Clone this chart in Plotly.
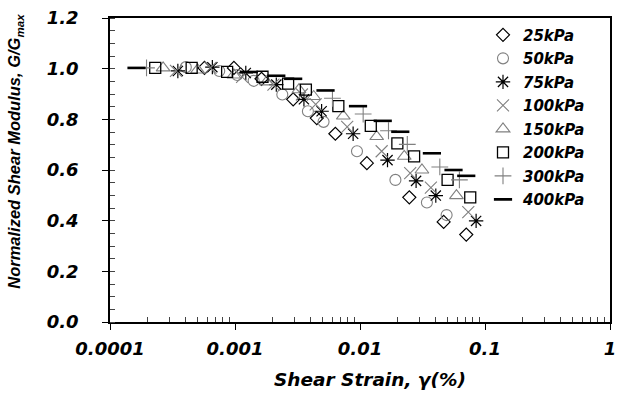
import plotly.graph_objects as go

# ---- data ----
series_names = ["25kPa", "50kPa", "75kPa", "100kPa", "150kPa", "200kPa", "300kPa", "400kPa"]

x_25 = [0.00057, 0.00098, 0.00163, 0.00292, 0.00451, 0.00635, 0.01135, 0.0248, 0.0467, 0.0708]
y_25 = [1.003, 1.003, 0.960, 0.879, 0.805, 0.743, 0.627, 0.492, 0.395, 0.345]

x_50 = [0.000404, 0.000748, 0.00104, 0.00141, 0.00239, 0.00383, 0.00511, 0.00946, 0.0192, 0.0343, 0.0493]
y_50 = [1.006, 0.991, 0.975, 0.952, 0.898, 0.832, 0.790, 0.674, 0.561, 0.472, 0.422]

x_75 = [0.000349, 0.000659, 0.00122, 0.00214, 0.00356, 0.00493, 0.00881, 0.0166, 0.0281, 0.0404, 0.0849]
y_75 = [0.991, 1.006, 0.983, 0.937, 0.879, 0.832, 0.743, 0.639, 0.557, 0.499, 0.399]

x_100 = [0.000337, 0.000636, 0.00114, 0.00203, 0.00343, 0.00442, 0.00790, 0.0149, 0.0252, 0.0369, 0.0735]
y_100 = [0.991, 1.003, 0.968, 0.937, 0.898, 0.859, 0.770, 0.674, 0.588, 0.530, 0.434]

x_150 = [0.000266, 0.000502, 0.00098, 0.00179, 0.00325, 0.00426, 0.00735, 0.0136, 0.0226, 0.0313, 0.0591]
y_150 = [1.003, 0.995, 0.975, 0.948, 0.917, 0.890, 0.813, 0.732, 0.654, 0.600, 0.499]

x_200 = [0.000230, 0.000450, 0.000865, 0.00166, 0.00266, 0.00369, 0.00671, 0.0122, 0.0199, 0.0271, 0.0502, 0.0762]
y_200 = [1.003, 1.003, 0.987, 0.968, 0.941, 0.917, 0.852, 0.774, 0.705, 0.654, 0.561, 0.492]

x_300 = [0.000196, 0.00602, 0.0106, 0.0169, 0.0239, 0.0435, 0.0624]
y_300 = [1.003, 0.883, 0.821, 0.755, 0.701, 0.612, 0.561]

x_400 = [0.000163, 0.00129, 0.00214, 0.00292, 0.00530, 0.00964, 0.0152, 0.0210, 0.0376, 0.0560, 0.0708]
y_400 = [1.003, 0.987, 0.972, 0.960, 0.914, 0.852, 0.794, 0.751, 0.666, 0.600, 0.577]

x_tick_vals = [0.0001, 0.001, 0.01, 0.1, 1]
x_tick_text = ["0.0001", "0.001", "0.01", "0.1", "1"]
y_tick_vals = [0.0, 0.2, 0.4, 0.6, 0.8, 1.0, 1.2]
y_tick_text = ["0.0", "0.2", "0.4", "0.6", "0.8", "1.0", "1.2"]

# ---- styles ----
BLACK = "#000000"
GRAY = "#808080"
xs = [x_25, x_50, x_75, x_100, x_150, x_200, x_300, x_400]
ys = [y_25, y_50, y_75, y_100, y_150, y_200, y_300, y_400]
symbols = ["diamond-open", "circle-open", "asterisk-open", "x-thin-open",
           "triangle-up-open", "square-open", "cross-thin-open", "line-ew-open"]
colors = [BLACK, GRAY, BLACK, GRAY, GRAY, BLACK, GRAY, BLACK]
sizes = [10, 11, 12, 12, 12, 11, 12, 13]
widths = [1.2, 1.1, 1.2, 1.1, 1.1, 1.3, 1.1, 2.6]

fig = go.Figure()
for i, name in enumerate(series_names):
    fig.add_trace(go.Scatter(
        x=xs[i], y=ys[i], mode="markers", name=name, legendgroup=name,
        marker=dict(symbol=symbols[i], size=sizes[i], color=colors[i],
                    line=dict(color=colors[i], width=widths[i])),
    ))

# minor tick positions
minor_x = [m * 10 ** e for e in range(-4, 0) for m in range(2, 10)]

TICKFONT = dict(family="DejaVu Sans", size=18, color="black", weight="bold", style="italic")

fig.update_layout(
    width=623, height=396,
    margin=dict(l=110, r=7, t=12, b=74),
    paper_bgcolor="white", plot_bgcolor="white",
    showlegend=True,
    legend=dict(x=0.746, y=0.998, xanchor="left", yanchor="top",
                bgcolor="rgba(0,0,0,0)", tracegroupgap=1,
                font=dict(family="DejaVu Sans", size=15, color="black",
                          weight="bold", style="italic"),
                itemwidth=30),
    xaxis=dict(type="log", range=[-4, 0],
               tickmode="array", tickvals=x_tick_vals, ticktext=x_tick_text,
               ticks="outside", ticklen=6, tickwidth=1.2, tickcolor="black",
               ticklabelstandoff=4,
               showline=True, linecolor="black", linewidth=1.5, mirror=True,
               showgrid=False, zeroline=False, tickfont=TICKFONT,
               minor=dict(tickmode="array", tickvals=minor_x, ticks="inside",
                          ticklen=5, tickwidth=1, tickcolor="#444", showgrid=False)),
    yaxis=dict(range=[0, 1.2],
               tickmode="array", tickvals=y_tick_vals, ticktext=y_tick_text,
               ticks="outside", ticklen=6, tickwidth=1.2, tickcolor="black",
               ticklabelstandoff=20,
               showline=True, linecolor="black", linewidth=1.5, mirror=True,
               showgrid=False, zeroline=False, tickfont=TICKFONT,
               minor=dict(dtick=0.05, ticks="inside", ticklen=5, tickwidth=1,
                          tickcolor="#444", showgrid=False)),
    annotations=[
        dict(text="Shear Strain, γ(%)", xref="paper", yref="paper",
             x=0.52, y=-0.19, xanchor="center", yanchor="middle", showarrow=False,
             font=dict(family="DejaVu Sans", size=18.5, color="black",
                       weight="bold", style="italic")),
        dict(text="Normalized Shear Modulus, G/G<sub>max</sub>", xref="paper", yref="paper",
             x=-0.19, y=0.56, xanchor="center", yanchor="middle", showarrow=False,
             textangle=-90,
             font=dict(family="Liberation Sans", size=16.5, color="black",
                       weight="bold", style="italic")),
    ],
)

fig.write_html("out.html")
